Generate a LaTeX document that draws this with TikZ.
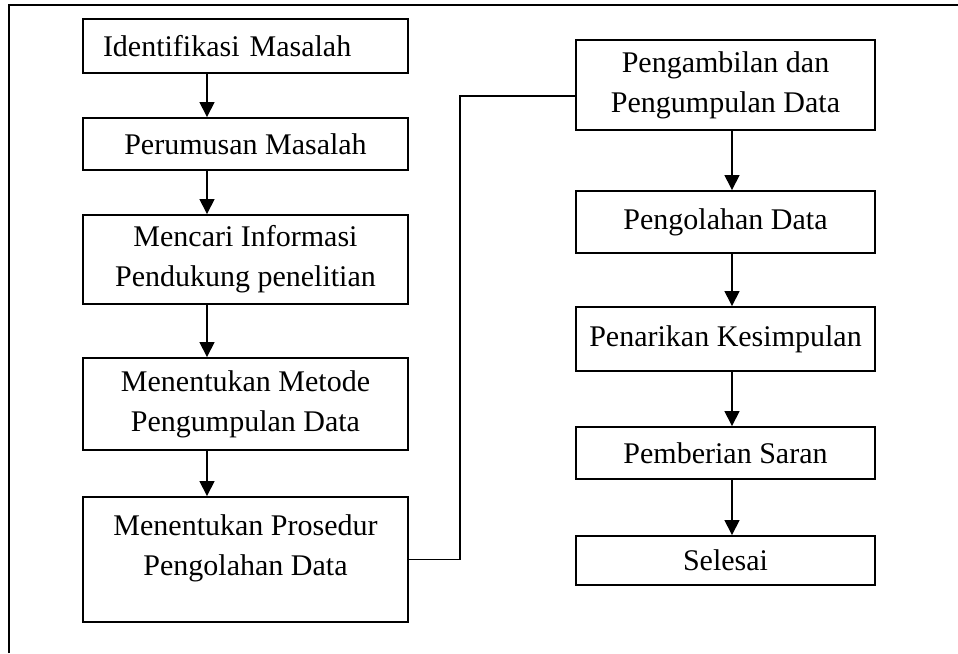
\documentclass[tikz,border=0pt]{standalone}
\usepackage{fontspec}
\setmainfont{Liberation Serif}
\usetikzlibrary{arrows.meta}
\begin{document}
\begin{tikzpicture}[x=1pt,y=-1pt,
  box/.style={draw, line width=1.9pt, inner sep=0pt, align=center,
    font=\fontsize{30}{40}\selectfont},
  lbox/.style={box, minimum width=325pt},
  rbox/.style={box, minimum width=299pt},
  flow/.style={line width=1.5pt, -{Triangle[width=15pt,length=15pt]}},
  conn/.style={line width=1.9pt}]
\useasboundingbox (0,0) rectangle (958,653);
\draw[line width=2pt] (9,653) -- (9,5) -- (958,5);
% left column
\node[lbox, minimum height=54pt, text width=285pt, align=left] (b1) at (245.5,46) {Identifikasi Masalah};
\node[lbox, minimum height=52pt] (b2) at (245.5,144) {Perumusan Masalah};
\node[lbox, minimum height=89pt] (b3) at (245.5,259.5) {Mencari Informasi\\Pendukung penelitian};
\node[lbox, minimum height=92pt] (b4) at (245.5,404) {Menentukan Metode\\Pengumpulan Data};
\node[lbox, minimum height=125pt] (b5) at (245.5,559.5) {Menentukan Prosedur\\Pengolahan Data\\[-12pt]\mbox{}};
% right column
\node[rbox, minimum height=90pt] (r1) at (725.5,85) {Pengambilan dan\\Pengumpulan Data};
\node[rbox, minimum height=62pt] (r2) at (725.5,222) {Pengolahan Data};
\node[rbox, minimum height=64pt] (r3) at (725.5,339) {Penarikan Kesimpulan};
\node[rbox, minimum height=52pt] (r4) at (725.5,453) {Pemberian Saran};
\node[rbox, minimum height=49pt] (r5) at (725.5,560.5) {Selesai};
% arrows left
\foreach \a/\b in {b1/b2,b2/b3,b3/b4,b4/b5}
  \draw[flow] ([xshift=-38.5pt]\a.south) -- ([xshift=-38.5pt]\b.north);
% arrows right
\foreach \a/\b in {r1/r2,r2/r3,r3/r4,r4/r5}
  \draw[flow] ([xshift=6.5pt]\a.south) -- ([xshift=6.5pt]\b.north);
% connector
\coordinate (elbow) at (460,0);
\coordinate (r1in) at ([yshift=-11pt]r1.west);
\draw[conn] (b5.east) -| (elbow |- r1in) -- (r1in);
\end{tikzpicture}
\end{document}
